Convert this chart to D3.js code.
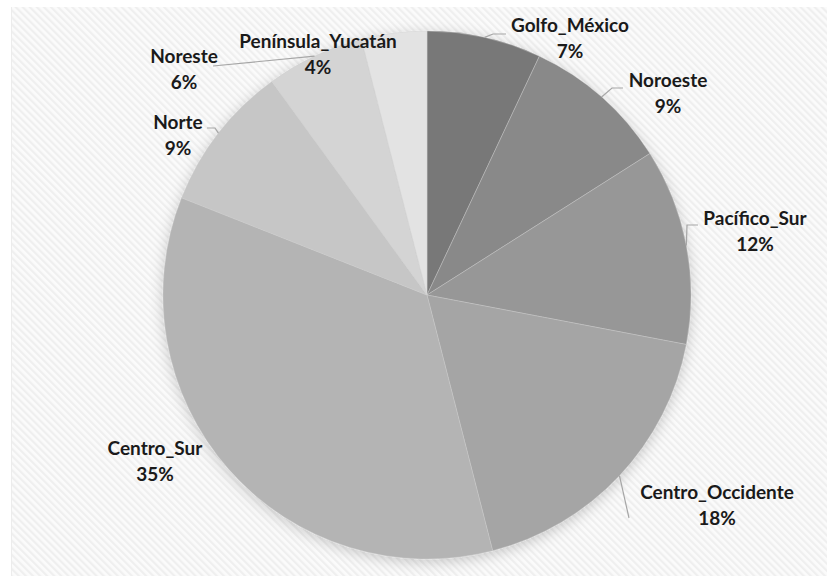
<!DOCTYPE html>
<html>
<head>
<meta charset="utf-8">
<script src="https://cdn.jsdelivr.net/npm/d3@7"></script>
<style>
  html, body { margin: 0; padding: 0; background: #fff; }
  svg { display: block; }
  .lbl { font-family: Lato, "Open Sans", sans-serif; font-weight: 700; font-size: 19px; fill: #1a1a1a; }
</style>
</head>
<body>
<svg id="chart" width="827" height="576"></svg>
<script>
// Regional shares (percent), clockwise from 12 o'clock
const regions = ["Golfo_México", "Noroeste", "Pacífico_Sur", "Centro_Occidente",
                 "Centro_Sur", "Norte", "Noreste", "Península_Yucatán"];
const shares  = [7, 9, 12, 18, 35, 9, 6, 4];
const greys   = ["#787878", "#898989", "#979797", "#a5a5a5",
                 "#b4b4b4", "#c6c6c6", "#d4d4d4", "#e3e3e3"];

// Label placement (centre x, first-line baseline) and leader-line bends
const labelAt = {
  "Golfo_México":      { x: 570, y: 32,  leader: [[493, 34], [506, 34]] },
  "Noroeste":          { x: 668, y: 87,  leader: [[612, 88], [623, 88]] },
  "Pacífico_Sur":      { x: 755, y: 225, leader: [[687, 225], [698, 225]] },
  "Centro_Occidente":  { x: 717, y: 499, leader: [[629, 518]] },
  "Centro_Sur":        { x: 155, y: 455, leader: null },
  "Norte":             { x: 178, y: 129, leader: [[215, 128], [207, 128]] },
  "Noreste":           { x: 184, y: 63,  leader: [[213, 66]] },
  "Península_Yucatán": { x: 318, y: 48,  leader: null }
};

const W = 827, H = 576;
const cx = 427, cy = 295, R = 264;

const svg = d3.select("#chart");
const defs = svg.append("defs");

// faint diagonal hatch for the plot panel
const pat = defs.append("pattern")
  .attr("id", "hatch").attr("patternUnits", "userSpaceOnUse")
  .attr("width", 5).attr("height", 5)
  .attr("patternTransform", "rotate(-45)");
pat.append("rect").attr("width", 5).attr("height", 5).attr("fill", "#fbfbfb");
pat.append("rect").attr("width", 2.2).attr("height", 5).attr("fill", "#efefef");

// soft shadow around the pie
const f = defs.append("filter").attr("id", "glow")
  .attr("x", "-20%").attr("y", "-20%").attr("width", "140%").attr("height", "140%");
f.append("feDropShadow").attr("dx", 0).attr("dy", 3)
  .attr("stdDeviation", 7).attr("flood-color", "#000").attr("flood-opacity", 0.2);

svg.append("rect").attr("x", 11).attr("y", 7)
  .attr("width", W - 11).attr("height", H - 7)
  .attr("fill", "url(#hatch)");
svg.append("line").attr("x1", 11.5).attr("x2", 11.5).attr("y1", 7).attr("y2", H)
  .attr("stroke", "#ececec");

const data = regions.map((name, i) => ({ name, value: shares[i], color: greys[i] }));

const pie = d3.pie().sort(null).value(d => d.value);
const arcs = pie(data);
const arc = d3.arc().innerRadius(0).outerRadius(R);
const rim = d3.arc().innerRadius(R).outerRadius(R);

const g = svg.append("g").attr("transform", `translate(${cx},${cy})`);

g.append("g").attr("filter", "url(#glow)")
  .selectAll("path").data(arcs).join("path")
  .attr("d", arc)
  .attr("fill", d => d.data.color)
  .attr("stroke", "#cfcfcf").attr("stroke-width", 0.4);

// leader lines from the rim at each slice's mid angle
const line = d3.line();
arcs.forEach(a => {
  const spec = labelAt[a.data.name];
  if (!spec.leader) return;
  const [sx, sy] = rim.centroid(a);
  const pts = [[sx + cx, sy + cy], ...spec.leader];
  svg.append("path").attr("d", line(pts))
    .attr("fill", "none").attr("stroke", "#a6a6a6").attr("stroke-width", 1.2);
});

// category + percent labels
arcs.forEach(a => {
  const spec = labelAt[a.data.name];
  const t = svg.append("text").attr("class", "lbl").attr("text-anchor", "middle");
  t.append("tspan").attr("x", spec.x).attr("y", spec.y).text(a.data.name);
  t.append("tspan").attr("x", spec.x).attr("y", spec.y + 26).text(a.data.value + "%");
});
</script>
</body>
</html>
